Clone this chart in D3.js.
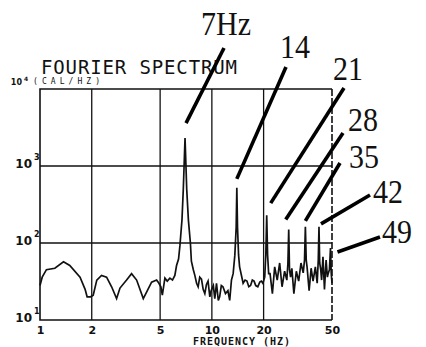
<!DOCTYPE html>
<html lang="en">
<head>
    <meta charset="UTF-8">
    <title>Fourier Spectrum</title>
    <style>
        body, html {
            margin: 0;
            background: #fff;
        }
        svg {
            display: block;
        }
        .grid line {
            stroke: #111;
            stroke-width: 1.3px;
        }
        .frame {
            fill: none;
            stroke: #111;
            stroke-width: 1.6px;
        }
        .frame-right {
            stroke: #111;
            stroke-width: 1.6px;
            stroke-dasharray: 7 2;
        }
        .spectrum {
            fill: none;
            stroke: #111;
            stroke-width: 1.7px;
            stroke-linejoin: miter;
        }
        .leader {
            stroke: #000;
            stroke-width: 3.6px;
        }
        .mono {
            font-family: "DejaVu Sans Mono", monospace;
            fill: #111;
        }
        .note {
            font-family: "Liberation Serif", "DejaVu Serif", serif;
            font-size: 30px;
            fill: #111;
        }
        .xaxis text {
            font-family: "DejaVu Sans", sans-serif;
            font-size: 11px;
            font-weight: bold;
            fill: #111;
        }
    </style>
</head>
<body>
<div id="chart"></div>

<script src="https://d3js.org/d3.v7.min.js"></script>
<script>
    // spectrum (Hz, CAL/HZ)
    const freqHz = [
        1.00, 1.03, 1.09, 1.22, 1.37, 1.49, 1.71, 1.83, 1.88, 1.97, 2.04, 2.14, 2.28, 2.44, 2.61, 2.79, 2.92,
        3.19, 3.41, 3.65, 3.99, 4.17, 4.46, 4.77, 4.92, 5.05, 5.15, 5.33, 5.50, 5.70, 5.90, 6.09, 6.23, 6.40,
        6.52, 6.70, 6.82, 6.92, 6.98, 7.04, 7.14, 7.30, 7.50, 7.60, 7.80, 7.96, 8.15, 8.32, 8.50, 8.70, 8.90,
        9.10, 9.30, 9.50, 9.73, 9.90, 10.2, 10.4, 10.64, 10.9, 11.1, 11.35, 11.6, 12.0, 12.4, 12.7, 13.0, 13.3,
        13.6, 13.85, 13.97, 14.1, 14.3, 14.5, 15.2, 15.6, 16.0, 16.4, 16.8, 17.2, 17.6, 18.0, 18.5, 19.0, 19.4,
        19.8, 20.3, 20.6, 20.85, 21.1, 21.4, 21.8, 22.5, 23.2, 24.0, 24.8, 25.6, 26.5, 27.3, 27.7, 28.0, 28.3,
        28.7, 29.2, 30.0, 31.0, 32.0, 33.0, 34.0, 34.6, 35.0, 35.4, 35.8, 36.8, 37.8, 38.8, 40.0, 41.0, 41.6,
        42.0, 42.4, 43.0, 43.5, 44.3, 45.2, 46.2, 47.0, 47.5, 48.3, 49.0, 49.5, 50.0
    ];
    const amplitude = [
        28, 36, 45, 47, 57, 51, 36, 25, 20, 20, 21, 33, 38, 36, 27, 19, 26,
        33, 40, 33, 19, 23, 31, 33, 30, 27, 21, 35, 32, 35, 33, 38, 51, 62,
        93, 200, 500, 1300, 2300, 1300, 500, 200, 100, 58, 45, 38, 30, 27, 36, 34, 25,
        22, 29, 32, 20, 24, 28, 19, 30, 18, 20, 28, 27, 22, 24, 18, 33, 40,
        69, 160, 520, 160, 70, 49, 30, 33, 32, 27, 28, 33, 32, 28, 27, 31, 32,
        30, 36, 70, 230, 70, 40, 40, 22, 49, 33, 55, 27, 43, 33, 55, 150, 45,
        36, 47, 22, 43, 32, 55, 41, 60, 162, 60, 49, 24, 47, 32, 49, 30, 60,
        162, 55, 45, 33, 66, 25, 60, 36, 40, 45, 86, 40, 30
    ];

    const xTicks = [1, 2, 5, 10, 20, 50];
    const xGrid = [2, 5, 10, 20];
    const yGrid = [100, 1000];
    const yExponents = [1, 2, 3, 4];

    // harmonic call-outs
    const noteText = ["7Hz", "14", "21", "28", "35", "42", "49"];
    const noteFreq = [6.98, 13.97, 20.85, 28.0, 35.0, 42.0, 49.0];
    const notePeak = [2300, 520, 230, 150, 162, 162, 86];

    // where each call-out sits: label baseline-left, leader start, leader end offset from peak
    const noteLayout = [
        { lx: 201, ly: 35, sx: 224, sy: 48, dx: 1, dy: -15 },
        { lx: 280, ly: 58, sx: 286, sy: 67, dx: 0, dy: -9 },
        { lx: 333, ly: 80, sx: 344, sy: 88, dx: 4, dy: -12 },
        { lx: 348, ly: 131, sx: 343, sy: 133, dx: -3, dy: -10 },
        { lx: 349, ly: 168, sx: 340, sy: 163, dx: 0, dy: -6 },
        { lx: 373, ly: 203, sx: 370, sy: 195, dx: 2, dy: -3 },
        { lx: 382, ly: 243, sx: 380, sy: 237, dx: 7, dy: 4 }
    ];

    const W = 426, H = 347;
    const plot = { left: 40, right: 332, top: 89, bottom: 320 };

    const svg = d3.select("#chart").append("svg")
        .attr("width", W)
        .attr("height", H);

    const x = d3.scaleLog().domain([1, 50]).range([plot.left, plot.right]);
    const y = d3.scaleLog().domain([10, 10000]).range([plot.bottom, plot.top]);

    // grid
    const grid = svg.append("g").attr("class", "grid");
    grid.selectAll(".vg").data(xGrid).enter().append("line")
        .attr("x1", d => x(d)).attr("x2", d => x(d))
        .attr("y1", plot.top).attr("y2", plot.bottom);
    grid.selectAll(".hg").data(yGrid).enter().append("line")
        .attr("x1", plot.left).attr("x2", plot.right)
        .attr("y1", d => y(d)).attr("y2", d => y(d));

    // frame: left, top, bottom solid, right edge dashed like the plotter
    svg.append("path")
        .attr("class", "frame")
        .attr("d", `M${plot.right},${plot.top}H${plot.left}V${plot.bottom}H${plot.right}`);
    svg.append("line")
        .attr("class", "frame-right")
        .attr("x1", plot.right).attr("x2", plot.right)
        .attr("y1", plot.top).attr("y2", plot.bottom);

    // spectrum trace
    const pts = freqHz.map((f, i) => [f, amplitude[i]]);
    const line = d3.line()
        .x(d => x(d[0]))
        .y(d => y(d[1]));
    svg.append("path")
        .attr("class", "spectrum")
        .attr("d", line(pts));

    // x axis labels
    const xAxis = d3.axisBottom(x)
        .tickValues(xTicks)
        .tickFormat(d3.format("d"))
        .tickSize(0)
        .tickPadding(6);
    svg.append("g")
        .attr("class", "xaxis")
        .attr("transform", `translate(0,${plot.bottom})`)
        .call(xAxis)
        .call(g => g.select(".domain").remove());

    // y axis labels 10^n
    const yl = svg.append("g").attr("class", "mono");
    yExponents.forEach(e => {
        const top = e === 4;
        const yy = y(Math.pow(10, e)) + (top ? -4 : 2);
        yl.append("text")
            .attr("x", top ? 22 : 32)
            .attr("y", yy)
            .attr("text-anchor", "end")
            .style("font-family", "DejaVu Sans, sans-serif")
            .style("font-weight", "bold")
            .style("font-size", top ? "8px" : "12px")
            .text("10");
        yl.append("text")
            .attr("x", top ? 24 : 34)
            .attr("y", yy - (top ? 4 : 8))
            .style("font-family", "DejaVu Sans, sans-serif")
            .style("font-weight", "bold")
            .style("font-size", top ? "6px" : "8px")
            .text(e);
    });

    svg.append("text")
        .attr("class", "mono")
        .attr("x", 33)
        .attr("y", 84)
        .attr("textLength", 67)
        .attr("lengthAdjust", "spacing")
        .style("font-size", "8px")
        .text("(CAL/HZ)");

    svg.append("text")
        .attr("class", "mono")
        .attr("x", 41)
        .attr("y", 73.5)
        .attr("textLength", 196)
        .attr("lengthAdjust", "spacing")
        .style("font-size", "19px")
        .text("FOURIER SPECTRUM");

    svg.append("text")
        .attr("class", "mono")
        .attr("x", 193)
        .attr("y", 345)
        .attr("textLength", 97)
        .attr("lengthAdjust", "spacing")
        .style("font-size", "10px")
        .style("font-weight", "bold")
        .text("FREQUENCY (HZ)");

    // call-outs
    const notes = svg.append("g");
    noteText.forEach((label, i) => {
        const L = noteLayout[i];
        notes.append("line")
            .attr("class", "leader")
            .attr("x1", L.sx).attr("y1", L.sy)
            .attr("x2", x(noteFreq[i]) + L.dx)
            .attr("y2", y(notePeak[i]) + L.dy);
        notes.append("text")
            .attr("class", "note")
            .attr("transform", `translate(${L.lx},${L.ly}) scale(1,1.12)`)
            .text(label);
    });
</script>

</body>
</html>
